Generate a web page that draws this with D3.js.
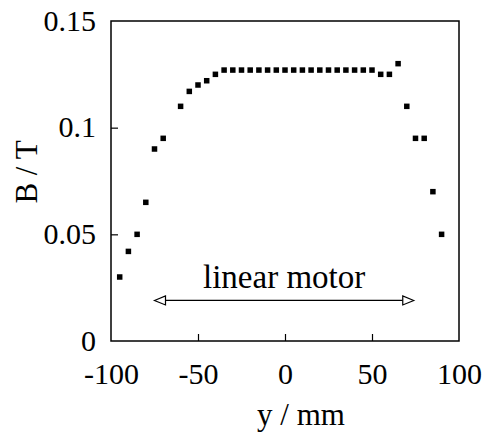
<!DOCTYPE html>
<html>
<head>
<meta charset="utf-8">
<script src="https://cdn.jsdelivr.net/npm/d3@7"></script>
<style>
  html, body { margin: 0; padding: 0; background: #fff; }
  svg { display: block; font-family: "Liberation Serif", "Times New Roman", serif; }
</style>
</head>
<body>
<svg id="chart"></svg>
<script>
const width = 489;
const height = 439;

// measured field along the motor axis
const positions = [-95, -90, -85, -80, -75, -70, -60, -55, -50, -45, -40,
  -35, -30, -25, -20, -15, -10, -5, 0, 5, 10, 15, 20, 25, 30, 35, 40, 45, 50,
  55, 60, 65, 70, 75, 80, 85, 90];
const fields = [0.030, 0.042, 0.050, 0.065, 0.090, 0.095, 0.110, 0.117, 0.120, 0.122, 0.125,
  0.127, 0.127, 0.127, 0.127, 0.127, 0.127, 0.127, 0.127, 0.127, 0.127, 0.127, 0.127, 0.127, 0.127, 0.127, 0.127, 0.127, 0.127,
  0.125, 0.125, 0.130, 0.110, 0.095, 0.095, 0.070, 0.050];

const xTicks = [-100, -50, 0, 50, 100];
const yTicks = [0, 0.05, 0.1, 0.15];
const motorRange = [-75, 74];
const motorLevel = 0.019;
const motorLabel = "linear motor";

const margin = {top: 21, right: 30, bottom: 98, left: 111};

const x = d3.scaleLinear([-100, 100], [margin.left, width - margin.right]);
const y = d3.scaleLinear([0, 0.15], [height - margin.bottom, margin.top]);

const svg = d3.select("#chart")
    .attr("width", width)
    .attr("height", height)
    .attr("viewBox", [0, 0, width, height]);

// frame
svg.append("rect")
    .attr("x", x(-100))
    .attr("y", y(0.15))
    .attr("width", x(100) - x(-100))
    .attr("height", y(0) - y(0.15))
    .attr("fill", "none")
    .attr("stroke", "#000")
    .attr("stroke-width", 1.5);

// x axis, ticks pointing in
const gx = svg.append("g")
    .attr("transform", `translate(0,${y(0)})`)
    .call(d3.axisBottom(x).tickValues(xTicks).tickSize(-7).tickFormat(d => String(d)));
gx.select(".domain").remove();
gx.selectAll(".tick line")
    .attr("stroke-width", 1.2)
    .attr("display", d => (d === -100 || d === 100) ? "none" : null);
gx.selectAll(".tick text")
    .attr("y", 43)
    .attr("dy", 0)
    .attr("fill", "#000")
    .style("font-size", "30px")
    .style("font-family", "Liberation Serif, serif");

// y axis, ticks pointing in
const gy = svg.append("g")
    .attr("transform", `translate(${x(-100)},0)`)
    .call(d3.axisLeft(y).tickValues(yTicks).tickSize(-7).tickFormat(d => String(d)));
gy.select(".domain").remove();
gy.selectAll(".tick line")
    .attr("stroke-width", 1.2)
    .attr("display", d => (d === 0 || d === 0.15) ? "none" : null);
gy.selectAll(".tick text")
    .attr("x", -15)
    .attr("dy", "0.3em")
    .attr("fill", "#000")
    .style("font-size", "30px")
    .style("font-family", "Liberation Serif, serif");

// axis titles
svg.append("text")
    .attr("x", x(0) + 16)
    .attr("y", 425)
    .attr("text-anchor", "middle")
    .style("font-size", "31px")
    .text("y / mm");

svg.append("text")
    .attr("transform", `translate(37,${y(0.075) - 9}) rotate(-90)`)
    .attr("text-anchor", "middle")
    .style("font-size", "31px")
    .text("B / T");

// data points
const size = 5.5;
svg.append("g")
  .selectAll("rect")
  .data(positions.map((p, i) => [p, fields[i]]))
  .join("rect")
    .attr("x", d => x(d[0]) - size / 2)
    .attr("y", d => y(d[1]) - size / 2)
    .attr("width", size)
    .attr("height", size)
    .attr("fill", "#000");

// motor extent arrow with open heads
const ay = y(motorLevel);
const x0 = x(motorRange[0]);
const x1 = x(motorRange[1]);
const headL = 11, headH = 4.5;
svg.append("line")
    .attr("x1", x0 + headL).attr("x2", x1 - headL)
    .attr("y1", ay).attr("y2", ay)
    .attr("stroke", "#000")
    .attr("stroke-width", 1.2);
svg.append("path")
    .attr("d", `M${x0},${ay}L${x0 + headL},${ay - headH}L${x0 + headL},${ay + headH}Z`)
    .attr("fill", "#fff").attr("stroke", "#000").attr("stroke-width", 1.2);
svg.append("path")
    .attr("d", `M${x1},${ay}L${x1 - headL},${ay - headH}L${x1 - headL},${ay + headH}Z`)
    .attr("fill", "#fff").attr("stroke", "#000").attr("stroke-width", 1.2);

svg.append("text")
    .attr("x", (x0 + x1) / 2)
    .attr("y", ay - 12)
    .attr("text-anchor", "middle")
    .style("font-size", "33px")
    .text(motorLabel);
</script>
</body>
</html>
